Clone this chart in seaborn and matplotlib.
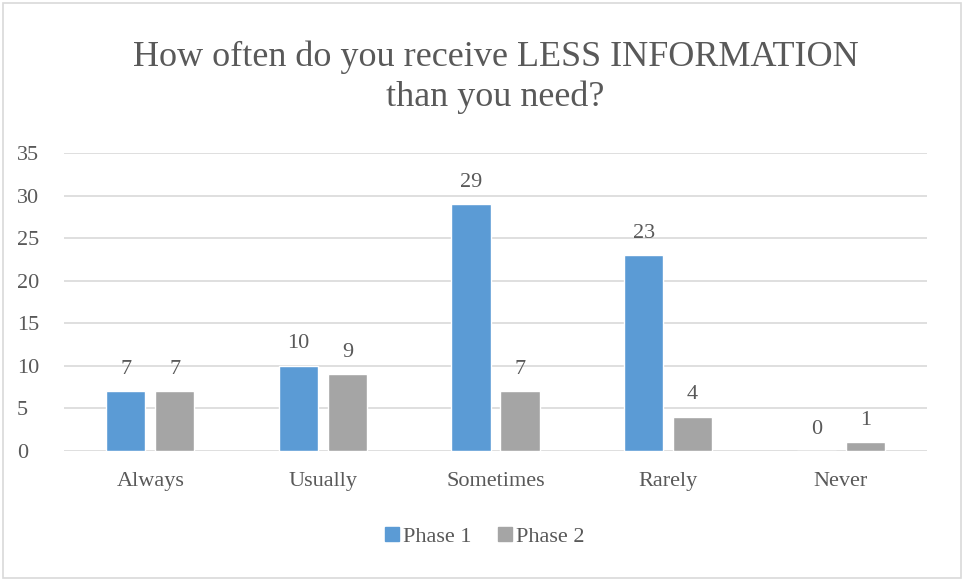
import matplotlib
matplotlib.use("Agg")
import matplotlib.pyplot as plt
import seaborn as sns
import pandas as pd
from matplotlib.patches import Rectangle

categories = ["Always", "Usually", "Sometimes", "Rarely", "Never"]
phase1 = [7, 10, 29, 23, 0]
phase2 = [7, 9, 7, 4, 1]
series_names = ["Phase 1", "Phase 2"]
yticks = [0, 5, 10, 15, 20, 25, 30, 35]

df = pd.DataFrame({
    "category": categories * 2,
    "value": phase1 + phase2,
    "series": [series_names[0]] * len(categories) + [series_names[1]] * len(categories),
})

sns.set_theme(style="white")
plt.rcParams["font.family"] = ["Liberation Serif", "DejaVu Serif"]
text_color = "#595959"

fig = plt.figure(figsize=(9.64, 5.81), dpi=100)
ax = fig.add_axes([64 / 964, 1 - 451 / 581, (927 - 64) / 964, (451 - 153) / 581])

palette = {"Phase 1": "#5B9BD5", "Phase 2": "#A5A5A5"}
sns.barplot(data=df, x="category", y="value", hue="series", palette=palette,
            width=0.568, gap=0.2, ax=ax, legend=False, saturation=1)

ax.set_ylim(0, 35)
ax.set_xlim(-0.5, len(categories) - 0.5)
ax.set_yticks(yticks)
ax.yaxis.grid(True, color="#D9D9D9", linewidth=1.2)
ax.set_axisbelow(True)
for s in ax.spines.values():
    s.set_visible(False)
ax.set_xlabel("")
ax.set_ylabel("")
ax.tick_params(axis="both", length=0, labelsize=16, colors=text_color)
ax.tick_params(axis="x", pad=15)
ax.tick_params(axis="y", pad=34)
for lbl in ax.get_yticklabels():
    lbl.set_horizontalalignment("left")

for container in ax.containers:
    ax.bar_label(container, fmt="%d", fontsize=16, color=text_color, padding=9)

fig.text(495.5 / 964, 1 - 77 / 581, "How often do you receive LESS INFORMATION\nthan you need?",
         ha="center", va="center", fontsize=26, color=text_color, linespacing=1.25)

handles = [Rectangle((0, 0), 1, 1, color=palette[n]) for n in series_names]
fig.legend(handles, series_names, loc="center", bbox_to_anchor=(485 / 964, 1 - 537 / 581),
           ncol=2, frameon=False, fontsize=16, handlelength=0.6, handleheight=0.6,
           handletextpad=0.2, columnspacing=1.2, labelcolor=text_color)

fig.patches.append(Rectangle((3 / 964, 3 / 581), 958 / 964, 575 / 581, transform=fig.transFigure,
                             fill=False, edgecolor="#D9D9D9", linewidth=1.2))

fig.savefig("out.png", dpi=100)
